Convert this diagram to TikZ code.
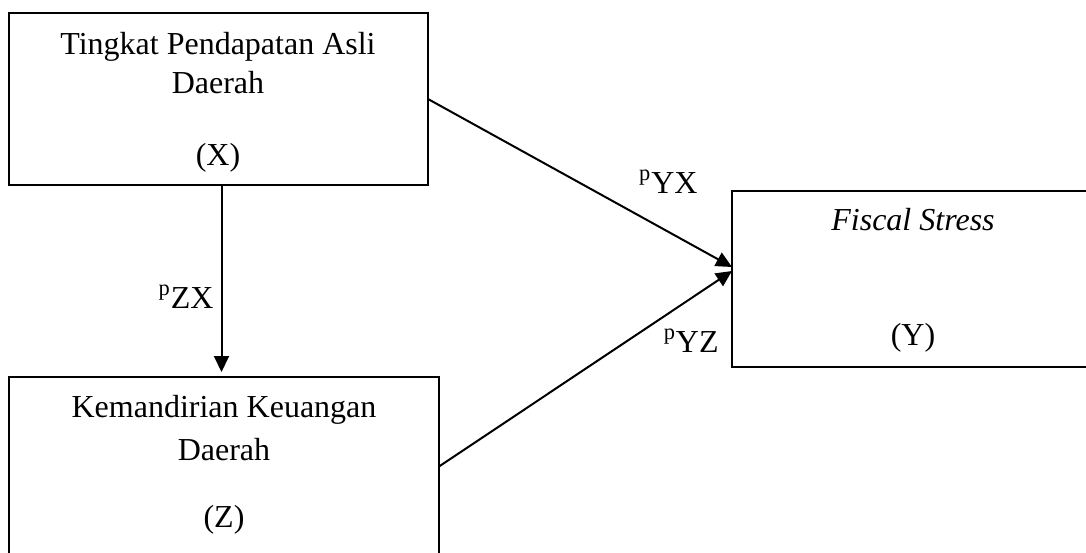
\documentclass[tikz,border=0pt]{standalone}
\usepackage{fontspec}
\setmainfont{Liberation Serif}
\usetikzlibrary{arrows.meta}
\begin{document}
\begin{tikzpicture}[x=0.5pt,y=-0.5pt,
  box/.style={draw, line width=1pt, anchor=north west, inner sep=0pt, outer sep=0pt},
  txt/.style={font=\fontsize{16}{19}\selectfont, inner sep=0pt, anchor=base},
  lbl/.style={font=\fontsize{16}{19}\selectfont, inner sep=0pt, anchor=base east},
  arr/.style={line width=1pt, -{Triangle[length=8pt,width=7.5pt]}}]
\useasboundingbox (0,0) rectangle (1086,552);
\clip (0,0) rectangle (1086,552);
% boxes
\node[box, minimum width=209.5pt, minimum height=86pt] (X) at (9,13) {};
\node[box, minimum width=215pt, minimum height=90pt] (Z) at (9,376.5) {};
\node[box, minimum width=181pt, minimum height=88pt] (Y) at (732,190.5) {};
% texts
\node[txt] (x1) at (218,54) {Tingkat Pendapatan Asli};
\node[txt] (x2) at (218,93) {Daerah};
\node[txt] (x3) at (218,165) {(X)};
\node[txt] (z1) at (224,417) {Kemandirian Keuangan};
\node[txt] (z2) at (224,460) {Daerah};
\node[txt] (z3) at (224,527) {(Z)};
\node[txt] (y1) at (913,230) {\itshape Fiscal Stress};
\node[txt] (y2) at (913,345) {(Y)};
% connectors
\coordinate (zt) at (221.5,372);
\coordinate (yin1) at (732,267);
\coordinate (yin2) at (732,271);
\draw[arr] (X.south -| zt) -- (zt);
\draw[arr] (X.east) -- (yin1);
\draw[arr] (Z.east) -- (yin2);
% labels
\node[lbl] (lzx) at (214,308) {\textsuperscript{p}ZX};
\node[lbl] (lyx) at (698,193) {\textsuperscript{p}YX};
\node[lbl] (lyz) at (719,352) {\textsuperscript{p}YZ};
\end{tikzpicture}
\end{document}
